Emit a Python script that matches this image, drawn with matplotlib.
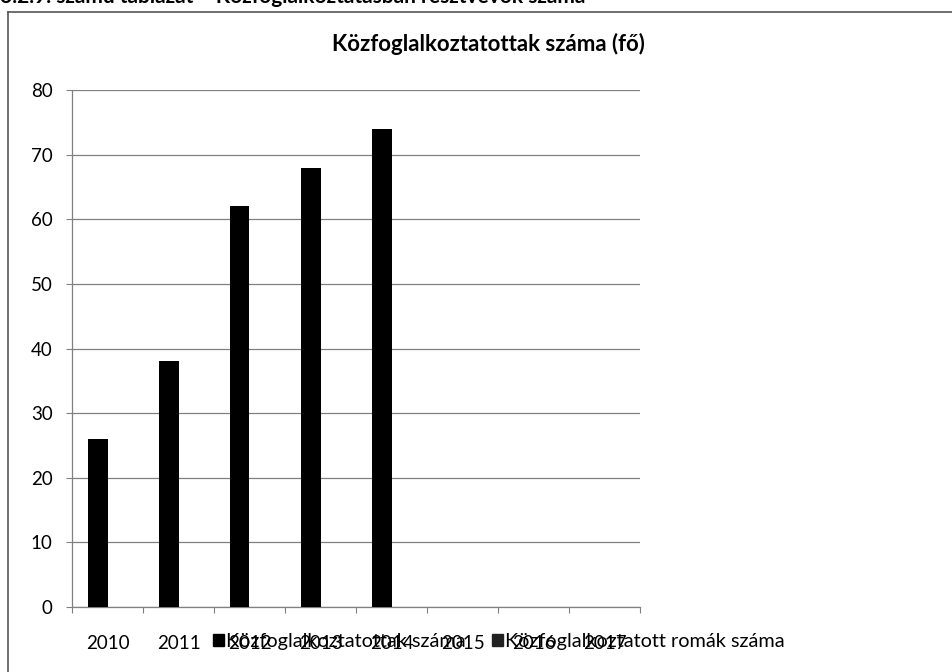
import numpy as np
import matplotlib
matplotlib.use("Agg")
import matplotlib.pyplot as plt
from matplotlib.lines import Line2D
from matplotlib.patches import Patch

years = ["2010", "2011", "2012", "2013", "2014", "2015", "2016", "2017"]
kozfog = [26, 38, 62, 68, 74, np.nan, np.nan, np.nan]
romak = [np.nan, np.nan, np.nan, np.nan, np.nan, np.nan, np.nan, np.nan]
series_names = ["Közfoglalkoztatottak száma", "Közfoglalkoztatott romák száma"]
chart_title = "Közfoglalkoztatottak száma (fő)"
page_title = "3.2.9. számú táblázat – Közfoglalkoztatásban résztvevők száma"
yticks = [0, 10, 20, 30, 40, 50, 60, 70, 80]

plt.rcParams['font.family'] = ['Lato', 'DejaVu Sans']

W, H = 952, 672
fig = plt.figure(figsize=(W / 100, H / 100), dpi=100)
ax = fig.add_axes([72 / W, 1 - 607 / H, (640 - 72) / W, (607 - 90) / H])

x = np.arange(len(years))
w = 0.28
ax.bar(x - w / 2, kozfog, width=w, color='black', zorder=3)
ax.bar(x + w / 2, romak, width=w, color='#222222', zorder=3)

ax.set_xlim(-0.5, len(years) - 0.5)
ax.set_ylim(0, 80)
ax.set_yticks(yticks)
ax.set_yticklabels([str(t) for t in yticks], fontsize=13.5)
ax.yaxis.grid(True, color='#808080', linewidth=0.9, zorder=0)
ax.tick_params(axis='y', length=4, width=0.8, color='#808080', pad=10)

ax.set_xticks(x)
ax.set_xticklabels(years, fontsize=13.5)
ax.tick_params(axis='x', which='major', length=0, pad=20)
ax.set_xticks(np.arange(-0.5, len(years)), minor=True)
ax.tick_params(axis='x', which='minor', length=4, width=0.8, color='#808080')

for s in ['top', 'right']:
    ax.spines[s].set_visible(False)
for s in ['left', 'bottom']:
    ax.spines[s].set_color('#808080')
    ax.spines[s].set_linewidth(0.9)

handles = [Patch(facecolor='black', edgecolor='black'),
           Patch(facecolor='#222222', edgecolor='#222222')]
fig.legend(handles, series_names, ncol=2, loc='center left',
           bbox_to_anchor=(213 / W, 1 - 642 / H), frameon=False,
           fontsize=14.3, handlelength=0.55, handleheight=0.55,
           handletextpad=0.12, columnspacing=1.3, borderaxespad=0,
           borderpad=0)

fig.text(488 / W, 1 - 44 / H, chart_title, fontsize=16, fontweight='bold',
         ha='center', va='center')

fig.text(0 / W, 1 - 3 / H, page_title, fontsize=15, fontweight='bold',
         ha='left', va='baseline')

fig.add_artist(Line2D([8 / W, 1.0], [1 - 12 / H, 1 - 12 / H],
                      transform=fig.transFigure, color='#555555', linewidth=1.2))
fig.add_artist(Line2D([8 / W, 8 / W], [1 - 12 / H, 0.0],
                      transform=fig.transFigure, color='#555555', linewidth=1.2))

fig.savefig("out.png", dpi=100)
